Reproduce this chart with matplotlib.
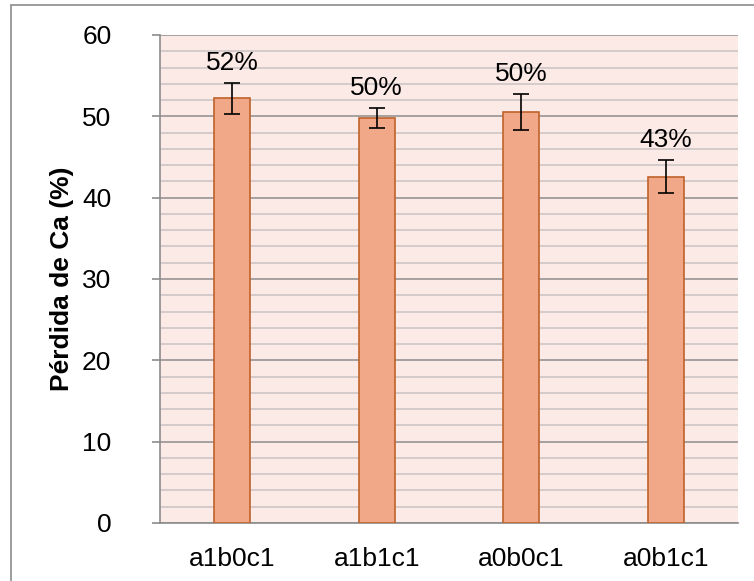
import matplotlib
matplotlib.use('Agg')
import matplotlib.pyplot as plt
from matplotlib.patches import Rectangle
import numpy as np

categories = ["a1b0c1", "a1b1c1", "a0b0c1", "a0b1c1"]
perdida = [52.2, 49.8, 50.5, 42.6]
errores = [1.9, 1.2, 2.2, 2.0]
etiquetas = ["52%", "50%", "50%", "43%"]

plt.rcParams['font.family'] = ['Liberation Sans', 'DejaVu Sans']

fig = plt.figure(figsize=(7.54, 5.81), dpi=100)
# outer chart border (only left/top visible in the screenshot)
fig.patches.append(Rectangle((11 / 754, -0.1), 1.5, (581 - 5) / 581 + 0.1,
                             transform=fig.transFigure, fill=False,
                             edgecolor='#8c8c8c', linewidth=1.2))

ax = fig.add_axes([160 / 754, (581 - 523) / 581, 578 / 754, 488 / 581])
ax.set_facecolor('#FBEAE5')

x = np.arange(len(categories))
ax.bar(x, perdida, width=0.25, color='#F0A889', edgecolor='#C0622A',
       linewidth=1.2, zorder=3)
ax.errorbar(x, perdida, yerr=errores, fmt='none', ecolor='black',
            elinewidth=1.2, capsize=6, capthick=1.2, zorder=4)

for xi, v, e, t in zip(x, perdida, errores, etiquetas):
    ax.annotate(t, (xi, v + e), xytext=(0, 6), textcoords='offset points',
                ha='center', va='bottom', fontsize=19)

ax.set_xlim(-0.5, len(categories) - 0.5)
ax.set_ylim(0, 60)
ax.set_yticks(np.arange(0, 61, 10))
ax.set_yticks(np.arange(0, 61, 2), minor=True)
ax.grid(which='minor', axis='y', color='#C9C2C2', linewidth=1.1, zorder=1)
ax.grid(which='major', axis='y', color='#A09A9A', linewidth=1.3, zorder=2)

ax.set_xticks(x)
ax.set_xticklabels(categories, fontsize=19)
ax.tick_params(axis='x', length=0, pad=17)
ax.tick_params(axis='y', which='major', labelsize=19, length=6, width=1.2,
               color='#8c8c8c', pad=29)
ax.tick_params(axis='y', which='minor', length=0)

for s in ['top', 'right']:
    ax.spines[s].set_visible(False)
ax.spines['left'].set_color('#8c8c8c')
ax.spines['left'].set_linewidth(1.2)
ax.spines['bottom'].set_color('#8c8c8c')
ax.spines['bottom'].set_linewidth(1.2)

ax.set_ylabel("Pérdida de Ca (%)", fontsize=19, fontweight='bold')
ax.yaxis.set_label_coords(-0.148, 0.5)

fig.savefig('out.png', dpi=100)
plt.close(fig)
